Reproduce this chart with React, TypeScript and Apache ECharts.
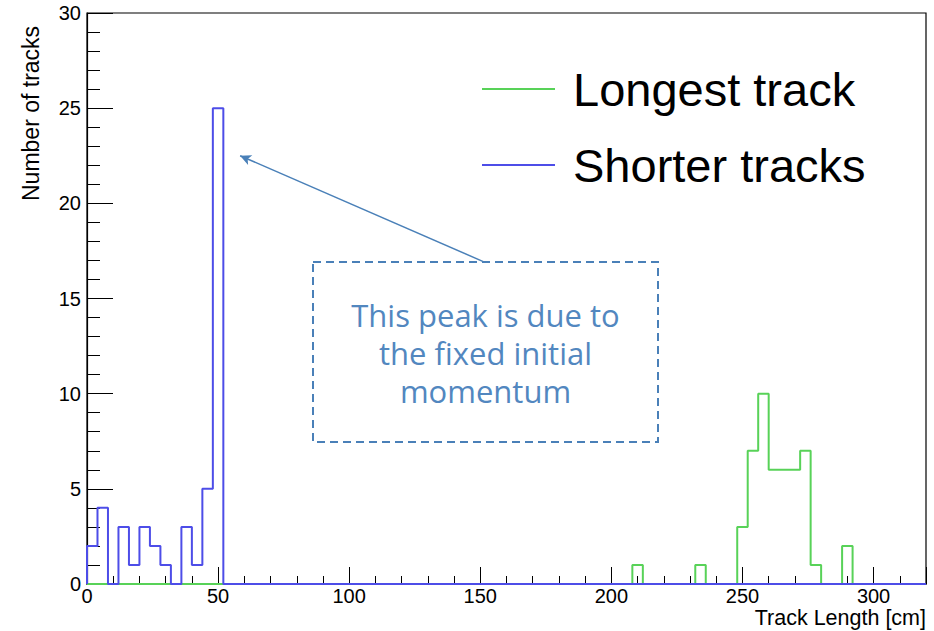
import React, { useEffect, useRef } from "react";
import * as echarts from "echarts";

// Histogram binning (cm)
const BIN_WIDTH = 4;
const X_MIN = 0;
const X_MAX = 320;
const Y_MIN = 0;
const Y_MAX = 30;

// Counts per 4 cm bin, starting at 0 cm (80 bins)
const shorterTracks = [
  2, 4, 0, 3, 1, 3, 2, 1, 0, 3,
  1, 5, 25, 0, 0, 0, 0, 0, 0, 0,
  0, 0, 0, 0, 0, 0, 0, 0, 0, 0,
  0, 0, 0, 0, 0, 0, 0, 0, 0, 0,
  0, 0, 0, 0, 0, 0, 0, 0, 0, 0,
  0, 0, 0, 0, 0, 0, 0, 0, 0, 0,
  0, 0, 0, 0, 0, 0, 0, 0, 0, 0,
  0, 0, 0, 0, 0, 0, 0, 0, 0, 0,
];
const longestTrack = [
  0, 0, 0, 0, 0, 0, 0, 0, 0, 0,
  0, 0, 0, 0, 0, 0, 0, 0, 0, 0,
  0, 0, 0, 0, 0, 0, 0, 0, 0, 0,
  0, 0, 0, 0, 0, 0, 0, 0, 0, 0,
  0, 0, 0, 0, 0, 0, 0, 0, 0, 0,
  0, 0, 1, 0, 0, 0, 0, 0, 1, 0,
  0, 0, 3, 7, 10, 6, 6, 6, 7, 1,
  0, 0, 2, 0, 0, 0, 0, 0, 0, 0,
];

const seriesNames = ["Longest track", "Shorter tracks"];
const xTitle = "Track Length [cm]";
const yTitle = "Number of tracks";
const noteText = "This peak is due to\nthe fixed initial\nmomentum";
// arrow annotation, in data coordinates: [x, y]
const arrowTail = [151.8, 16.9];
const arrowTip = [58.4, 22.5];

const GREEN = "#58d258";
const BLUE = "#4d4de8";
const NOTE = "#4a80b8";

function toSteps(counts: number[]) {
  const pts: number[][] = [[X_MIN, 0]];
  counts.forEach((c, i) => pts.push([X_MIN + i * BIN_WIDTH, c]));
  pts.push([X_MIN + counts.length * BIN_WIDTH, counts[counts.length - 1]]);
  pts.push([X_MIN + counts.length * BIN_WIDTH, 0]);
  return pts;
}

const FONT = "Liberation Sans, Arial, Helvetica, sans-serif";

export default function App() {
  const ref = useRef<HTMLDivElement>(null);
  useEffect(() => {
    document.body.style.margin = "0";
    if (!ref.current) return;
    const chart = echarts.init(ref.current, null, { renderer: "svg" });
    chart.setOption({
      animation: false,
      backgroundColor: "#ffffff",
      grid: {
        left: 87,
        top: 13,
        width: 839,
        height: 571,
        show: true,
        borderColor: "#000",
        borderWidth: 1.2,
        backgroundColor: "transparent",
      },
      xAxis: {
        type: "value",
        min: X_MIN,
        max: X_MAX,
        interval: 50,
        axisLine: { show: true, lineStyle: { color: "#000", width: 1.2 } },
        axisTick: { show: true, inside: true, length: 17, lineStyle: { color: "#000" } },
        minorTick: { show: true, splitNumber: 5, length: 8, lineStyle: { color: "#000" } },
        splitLine: { show: false },
        axisLabel: {
          color: "#000",
          fontSize: 20,
          fontFamily: FONT,
          margin: 2,
          showMaxLabel: false,
          formatter: (v: number) => (v % 50 === 0 ? String(v) : ""),
        },
      },
      yAxis: {
        type: "value",
        min: Y_MIN,
        max: Y_MAX,
        interval: 5,
        axisLine: { show: true, lineStyle: { color: "#000", width: 1.2 } },
        axisTick: { show: true, inside: true, length: 26, lineStyle: { color: "#000" } },
        minorTick: { show: true, splitNumber: 5, length: 13, lineStyle: { color: "#000" } },
        splitLine: { show: false },
        axisLabel: { color: "#000", fontSize: 20, fontFamily: FONT, margin: 6 },
      },
      legend: {
        orient: "vertical",
        left: 482,
        top: 64,
        padding: 0,
        itemWidth: 73,
        itemHeight: 2,
        itemGap: 26,
        icon: "rect",
        data: seriesNames,
        textStyle: {
          fontSize: 47,
          lineHeight: 50,
          fontFamily: FONT,
          color: "#000",
          padding: [0, 0, 0, 13],
        },
      },
      series: [
        {
          name: seriesNames[0],
          type: "line",
          step: "end",
          symbol: "none",
          showSymbol: false,
          data: toSteps(longestTrack),
          lineStyle: { color: GREEN, width: 2 },
          itemStyle: { color: GREEN },
          z: 2,
        },
        {
          name: seriesNames[1],
          type: "line",
          step: "end",
          symbol: "none",
          showSymbol: false,
          data: toSteps(shorterTracks),
          lineStyle: { color: BLUE, width: 2 },
          itemStyle: { color: BLUE },
          z: 3,
          markLine: {
            silent: true,
            symbol: ["none", "arrow"],
            symbolSize: [8, 11],
            label: { show: false },
            lineStyle: { color: NOTE, width: 1.5, type: "solid" },
            data: [[{ coord: arrowTail }, { coord: arrowTip }]],
          },
        },
      ],
      graphic: [
        {
          type: "rect",
          shape: { x: 313, y: 262, width: 345, height: 180 },
          style: { fill: "none", stroke: NOTE, lineWidth: 2, lineDash: [8, 5] },
        },
        {
          type: "text",
          x: 485.5,
          y: 353,
          style: {
            text: noteText,
            fill: "#5287bf",
            fontSize: 31,
            fontFamily: "'Open Sans', Lato, sans-serif",
            fontWeight: "normal",
            lineHeight: 38,
            align: "center",
            verticalAlign: "middle",
            textAlign: "center",
            textVerticalAlign: "middle",
          },
        },
        {
          type: "text",
          x: 31,
          y: 201,
          rotation: Math.PI / 2,
          style: {
            text: yTitle,
            fill: "#000",
            fontSize: 23,
            fontFamily: FONT,
            align: "left",
            verticalAlign: "middle",
            textAlign: "left",
            textVerticalAlign: "middle",
          },
        },
        {
          type: "text",
          x: 926,
          y: 618,
          style: {
            text: xTitle,
            fill: "#000",
            fontSize: 21.5,
            fontFamily: FONT,
            align: "right",
            verticalAlign: "middle",
            textAlign: "right",
            textVerticalAlign: "middle",
          },
        },
      ],
    });
    return () => chart.dispose();
  }, []);
  return <div ref={ref} style={{ width: 934, height: 631 }} />;
}
